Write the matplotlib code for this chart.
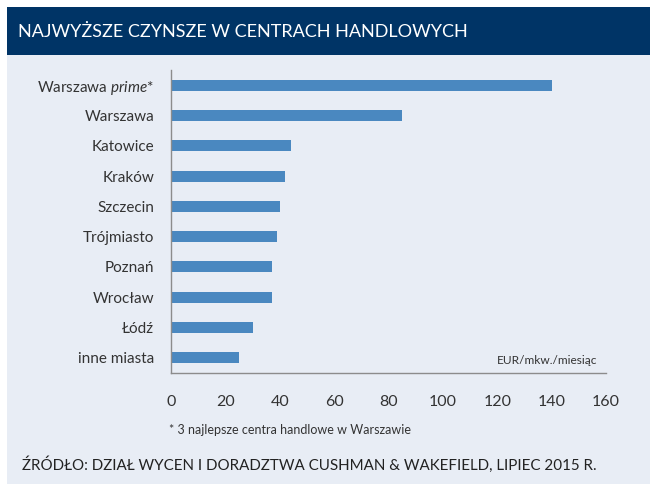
import matplotlib
matplotlib.use("Agg")
import matplotlib.pyplot as plt
from matplotlib.patches import Rectangle

categories = ["Warszawa prime*", "Warszawa", "Katowice", "Kraków", "Szczecin",
              "Trójmiasto", "Poznań", "Wrocław", "Łódź", "inne miasta"]
values = [140, 85, 44, 42, 40, 39, 37, 37, 30, 25]
xticks = [0, 20, 40, 60, 80, 100, 120, 140, 160]

W, H = 650, 484
FONT = "Lato"
plt.rcParams["mathtext.fontset"] = "custom"
plt.rcParams["mathtext.it"] = "Lato:italic"
plt.rcParams["mathtext.rm"] = "Lato"
fig = plt.figure(figsize=(W / 100, H / 100), dpi=100)
fig.patch.set_facecolor("white")

bg = "#E8EDF5"
fig.patches.append(Rectangle((7 / W, 0), 1 - 7 / W, 1 - 55 / H, transform=fig.transFigure,
                             facecolor=bg, edgecolor="none", zorder=-2))
fig.patches.append(Rectangle((7 / W, 1 - 55 / H), 1 - 7 / W, 48 / H, transform=fig.transFigure,
                             facecolor="#003466", edgecolor="none", zorder=-2))
fig.text(18 / W, 1 - 32 / H, "NAJWYŻSZE CZYNSZE W CENTRACH HANDLOWYCH", color="white",
         fontsize=13.0, family=FONT, va="center", ha="left")

ax = fig.add_axes([171 / W, 1 - 373 / H, (606 - 171) / W, (373 - 70) / H])
ax.set_zorder(2)
ax.set_facecolor("none")
y = list(range(len(categories)))
ax.barh(y, values, height=0.36, color="#4A88C0", edgecolor="none")
ax.set_ylim(9.5, -0.5)
ax.set_xlim(0, 160)
ax.set_xticks(xticks)
ax.set_xticklabels([str(t) for t in xticks], fontsize=11.5, family=FONT, color="#333333")
ax.set_yticks(y)
labels = [c if c != "Warszawa prime*" else "Warszawa $\\it{prime}$*" for c in categories]
ax.set_yticklabels(labels, fontsize=11.0, family=FONT, color="#333333")
ax.tick_params(axis="x", length=0, pad=16)
ax.tick_params(axis="y", length=0, pad=12)
for s in ["top", "right"]:
    ax.spines[s].set_visible(False)
for s in ["left", "bottom"]:
    ax.spines[s].set_color("#8C8C8C")
    ax.spines[s].set_linewidth(1.0)

fig.text(597 / W, 1 - 361 / H, "EUR/mkw./miesiąc", fontsize=8.6, family=FONT,
         color="#333333", ha="right", va="center")
fig.text(169 / W, 1 - 430 / H, "* 3 najlepsze centra handlowe w Warszawie", fontsize=9.0,
         family=FONT, color="#333333", ha="left", va="center")
fig.text(22 / W, 1 - 465 / H,
         "ŹRÓDŁO: DZIAŁ WYCEN I DORADZTWA CUSHMAN & WAKEFIELD, LIPIEC 2015 R.",
         fontsize=10.9, family=FONT, color="#222222", ha="left", va="center")

fig.savefig("out.png", dpi=100, facecolor=fig.get_facecolor())
